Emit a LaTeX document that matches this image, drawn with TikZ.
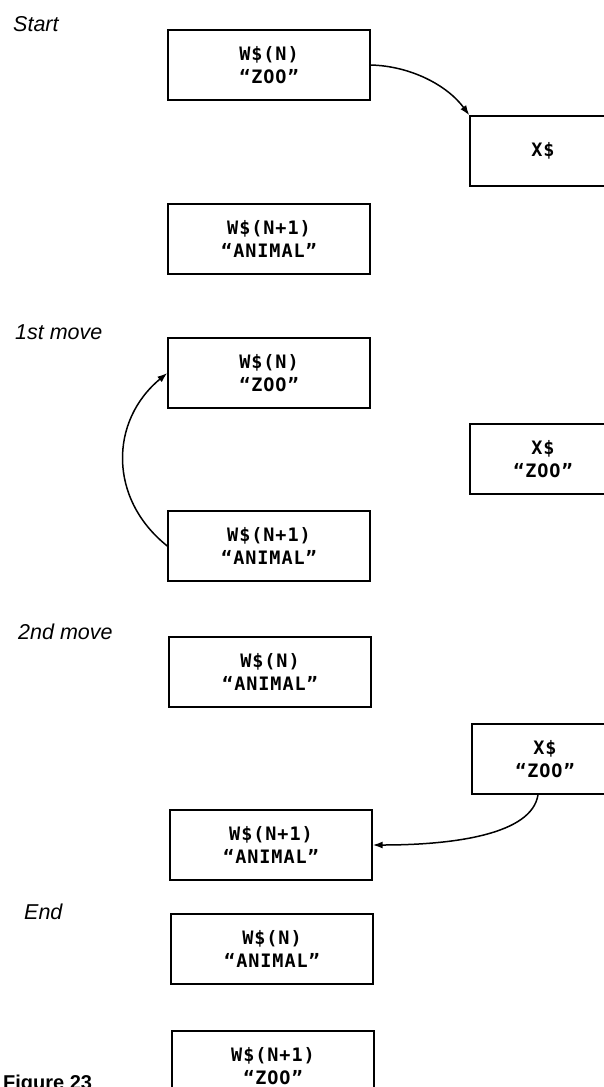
\documentclass[tikz,border=0pt]{standalone}
\usepackage{fontspec}
\setmainfont{Liberation Sans}
\newfontfamily\boxfont{DejaVu Sans Mono}[LetterSpace=5]
\usetikzlibrary{arrows.meta}
\begin{document}
\begin{tikzpicture}[x=1pt,y=-1pt,
  wbox/.style={draw, line width=1.4pt, minimum width=202pt, minimum height=70pt, inner sep=0pt, align=center, font=\boxfont\bfseries\fontsize{18.5}{23}\selectfont},
  xbox/.style={wbox, minimum width=146pt},
  lbl/.style={anchor=base west, inner sep=0pt, font=\itshape\fontsize{21.5}{24}\selectfont},
  arr/.style={line width=1.5pt, -{Latex[length=10pt,width=7pt]}}]
\useasboundingbox (0,0) rectangle (604,1087);
\clip (0,0) rectangle (604,1087);
\fill[white] (0,0) rectangle (604,1087);
% Start
\node[lbl] (lstart) at (13,31) {Start};
\node[wbox] (s1) at (269,65) {W\$(N)\\“ZOO”};
\node[xbox] (sx) at (543,151) {X\$};
\node[wbox] (s2) at (269,239) {W\$(N+1)\\“ANIMAL”};
\draw[arr] (s1.east) .. controls +(40,1) and +(-22,-30) .. (sx.north west);
% 1st move
\node[lbl] (lfirst) at (15,339) {1st move};
\node[wbox] (f1) at (269,373) {W\$(N)\\“ZOO”};
\node[xbox] (fx) at (543,459) {X\$\\“ZOO”};
\node[wbox] (f2) at (269,546) {W\$(N+1)\\“ANIMAL”};
\draw[arr] (f2.west) .. controls +(-59,-47) and +(-58,48) .. (f1.west);
% 2nd move
\node[lbl] (lsecond) at (18,639) {2nd move};
\node[wbox] (t1) at (270,672) {W\$(N)\\“ANIMAL”};
\node[xbox] (tx) at (545,759) {X\$\\“ZOO”};
\node[wbox] (t2) at (271,845) {W\$(N+1)\\“ANIMAL”};
\draw[arr] ([xshift=-7pt]tx.south) .. controls +(-6,40) and +(80,0) .. (t2.east);
% End
\node[lbl] (lend) at (24,919) {End};
\node[wbox] (e1) at (272,949) {W\$(N)\\“ANIMAL”};
\node[wbox] (e2) at (273,1066) {W\$(N+1)\\“ZOO”};
\node[anchor=base west, inner sep=0pt, font=\bfseries\fontsize{20}{22}\selectfont] (fig) at (3,1089) {Figure 23};
\end{tikzpicture}
\end{document}
